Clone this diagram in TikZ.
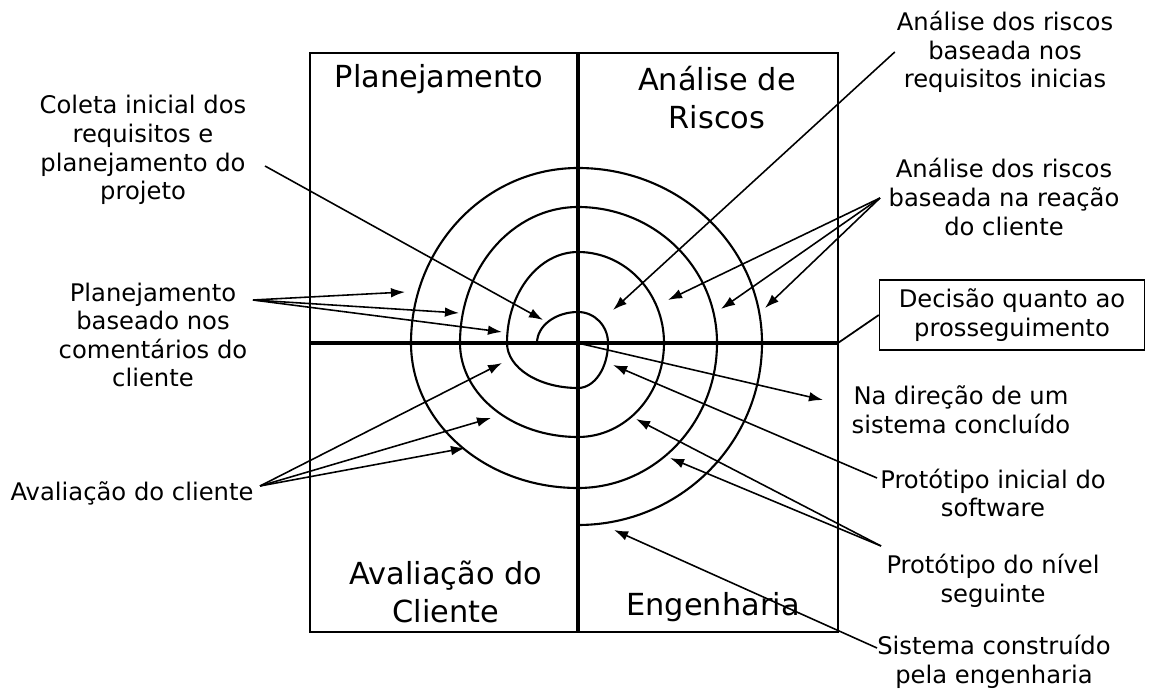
\documentclass[tikz,border=0pt]{standalone}
\usepackage{fontspec}
\setmainfont{DejaVu Sans}
\usetikzlibrary{arrows, arrows.meta, positioning, calc}

\begin{document}
\begin{tikzpicture}[
        x=0.02cm, y=0.02cm,
        label/.style={align=center, inner sep=1pt, font=\fontsize{13.8}{16.3}\selectfont},
        title/.style={align=center, inner sep=1pt, font=\fontsize{17.3}{21.6}\selectfont},
        frame/.style={line width=1pt},
        divider/.style={line width=2.2pt},
        turn/.style={line width=1.2pt},
        arrow/.style={-{Latex[length=8pt,width=5.5pt]}, line width=0.9pt}
    ]
        \useasboundingbox (0,0) rectangle (1149,690);

        % quadrants
        \draw[frame] (310,58) rectangle (838,637);
        \draw[divider] (578,58) -- (578,637);
        \draw[divider] (310,347) -- (838,347);
        \node[title] (plan) at (439,611) {Planejamento};
        \node[title] (risk) at (717,592) {Análise de\\Riscos};
        \node[title] (eval) at (446,98) {Avaliação do\\Cliente};
        \node[title] (eng) at (713,83) {Engenharia};

        % spiral
        \draw[turn] (537,347)
            arc[start angle=180, end angle=90, x radius=41, y radius=31]
            arc[start angle=90, end angle=0, x radius=30, y radius=31]
            arc[start angle=0, end angle=-90, x radius=30, y radius=45]
            arc[start angle=-90, end angle=-180, x radius=71, y radius=45]
            arc[start angle=180, end angle=90, x radius=71, y radius=91]
            arc[start angle=90, end angle=0, x radius=86, y radius=91]
            arc[start angle=0, end angle=-90, x radius=86, y radius=94]
            arc[start angle=-90, end angle=-180, x radius=118, y radius=94]
            arc[start angle=180, end angle=90, x radius=118, y radius=136]
            arc[start angle=90, end angle=0, x radius=139, y radius=136]
            arc[start angle=0, end angle=-90, x radius=139, y radius=145]
            arc[start angle=-90, end angle=-180, x radius=167, y radius=145]
            arc[start angle=180, end angle=90, x radius=167, y radius=175]
            arc[start angle=90, end angle=0, x radius=184, y radius=175]
            arc[start angle=0, end angle=-90, x radius=184, y radius=182];

        % labels
        \node[label] (coleta) at (143,540) {Coleta inicial dos\\requisitos e\\planejamento do\\projeto};
        \node[label] (planB) at (153,355) {Planejamento\\baseado nos\\comentários do\\cliente};
        \node[label] (evalC) at (132,197) {Avaliação do cliente};
        \node[label] (risk1) at (1005,638) {Análise dos riscos\\baseada nos\\requisitos inicias};
        \node[label] (risk2) at (1004,493) {Análise dos riscos\\baseada na reação\\do cliente};
        \node[label, draw, line width=0.8pt, minimum width=265*0.02cm, minimum height=70*0.02cm] (decide) at (1012,375) {Decisão quanto ao\\prosseguimento};
        \node[label] (toward) at (961,280) {Na direção de um\\sistema concluído};
        \node[label] (proto1) at (993,197) {Protótipo inicial do\\software};
        \node[label] (proto2) at (993,109) {Protótipo do nível\\seguinte};
        \node[label] (built) at (994,28) {Sistema construído\\pela engenharia};

        % arrow ends
        \coordinate (coletaS) at (265,524);
        \coordinate (planS) at (253,390);
        \coordinate (evalS) at (260,204);
        \coordinate (risk2S) at (880,492);
        \coordinate (proto1S) at (877,212);
        \coordinate (proto2S) at (881,144);
        \coordinate (builtS) at (877,42);
        \coordinate (origin) at (582,346);
        \coordinate (towardT) at (823,290);

        \draw[arrow] (coletaS) -- (543,370);
        \draw[arrow] (planS) -- (405,398);
        \draw[arrow] (planS) -- (459,377);
        \draw[arrow] (planS) -- (502,358);
        \draw[arrow] (evalS) -- (502,327);
        \draw[arrow] (evalS) -- (491,272);
        \draw[arrow] (evalS) -- (465,242);
        \draw[arrow] (risk1.west) -- (613,380);
        \draw[arrow] (risk2S) -- (668,390);
        \draw[arrow] (risk2S) -- (721,381);
        \draw[arrow] (risk2S) -- (765,382);
        \draw[line width=1pt] (838,347) -- (decide.west);
        \draw[arrow] (origin) -- (towardT);
        \draw[arrow] (proto1S) -- (613,325);
        \draw[arrow] (proto2S) -- (636,271);
        \draw[arrow] (proto2S) -- (670,232);
        \draw[arrow] (builtS) -- (614,160);
    \end{tikzpicture}
\end{document}
